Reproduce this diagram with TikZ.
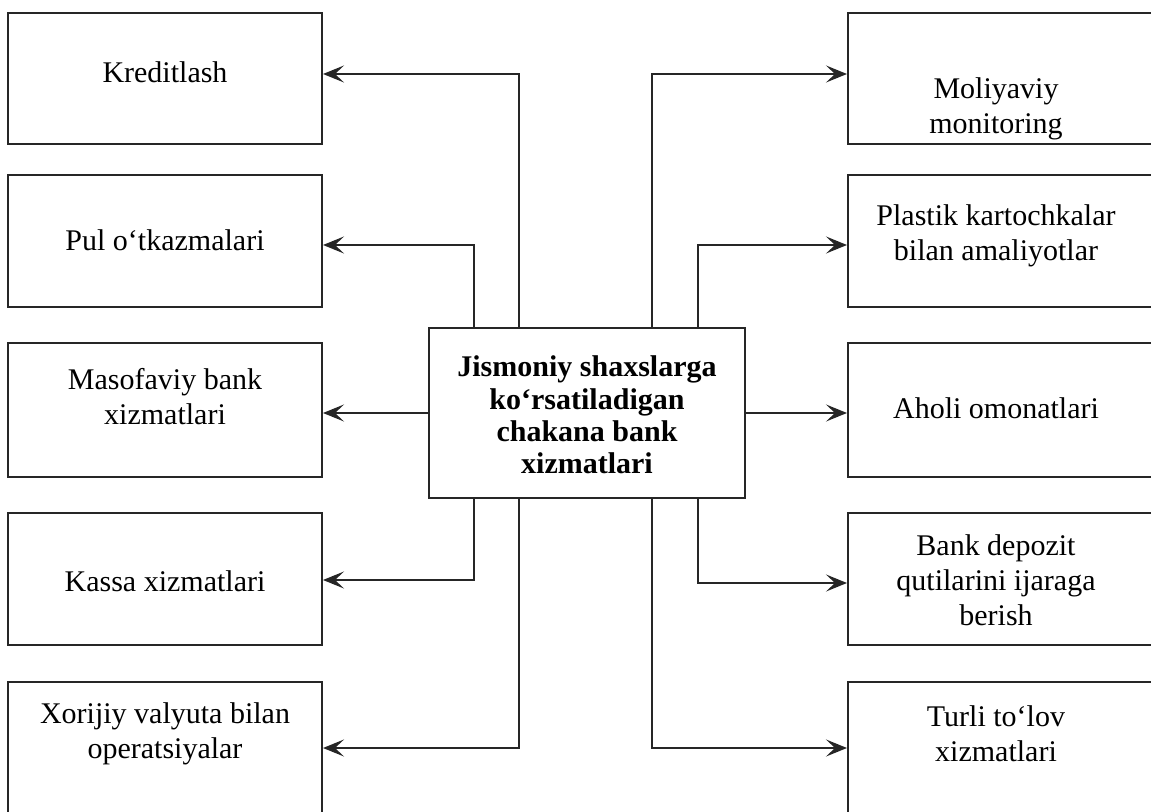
\documentclass[tikz,border=0pt]{standalone}
\usepackage{fontspec}
\setmainfont{Liberation Serif}
\usetikzlibrary{arrows.meta,calc}
\begin{document}
\begin{tikzpicture}[x=0.5pt,y=-0.5pt,
  box/.style={draw=black!85, line width=1pt, rectangle, inner sep=0pt},
  lbox/.style={box, minimum width=157pt},
  rbox/.style={box, minimum width=156pt},
  lbl/.style={align=center, font=\fontsize{15}{17.5}\selectfont, inner sep=0pt},
  clbl/.style={align=center, font=\fontsize{15}{16.2}\selectfont\bfseries, inner sep=0pt},
  arr/.style={draw=black!85, line width=1pt, -{Stealth[length=10.5pt,width=8.5pt,inset=4.5pt]}},
]
\useasboundingbox (0,0) rectangle (1151,812);
\clip (0,0) rectangle (1151,812);

% center box
\node[box, minimum width=158pt, minimum height=85pt] (c) at (587,413) {};
\node[clbl] (ct) at (587,415) {Jismoniy shaxslarga\\ko‘rsatiladigan\\chakana bank\\xizmatlari};

% left boxes
\node[lbox, minimum height=65.5pt] (L1) at (165,78.5) {};
\node[lbox, minimum height=66pt]   (L2) at (165,241) {};
\node[lbox, minimum height=67pt]   (L3) at (165,410) {};
\node[lbox, minimum height=66pt]   (L4) at (165,579) {};
\node[lbox, minimum height=79pt]   (L5) at (165,761) {};

% right boxes
\node[rbox, minimum height=65.5pt] (R1) at (1004,78.5) {};
\node[rbox, minimum height=66pt]   (R2) at (1004,241) {};
\node[rbox, minimum height=67pt]   (R3) at (1004,410) {};
\node[rbox, minimum height=66pt]   (R4) at (1004,579) {};
\node[rbox, minimum height=79pt]   (R5) at (1004,761) {};

% labels
\node[lbl] (tL1) at (165,72)  {Kreditlash};
\node[lbl] (tL2) at (165,240) {Pul o‘tkazmalari};
\node[lbl] (tL3) at (165,397) {Masofaviy bank\\xizmatlari};
\node[lbl] (tL4) at (165,581) {Kassa xizmatlari};
\node[lbl] (tL5) at (165,734) {Xorijiy valyuta bilan\\operatsiyalar};

\node[lbl] (tR1) at (996,109) {Moliyaviy\\monitoring};
\node[lbl] (tR2) at (996,236) {Plastik kartochkalar\\bilan amaliyotlar};
\node[lbl] (tR3) at (996,408) {Aholi omonatlari};
\node[lbl] (tR4) at (996,580) {Bank depozit\\qutilarini ijaraga\\berish};
\node[lbl] (tR5) at (996,734) {Turli to‘lov\\xizmatlari};

% connectors left
\draw[arr] ([xshift=-34pt]c.north) |- ([yshift=2.25pt]L1.east);
\draw[arr] ([xshift=-56.5pt]c.north) |- ([yshift=-2pt]L2.east);
\draw[arr] (c.west) -- (c.west -| L3.east);
\draw[arr] ([xshift=-56.5pt]c.south) |- ([yshift=-0.5pt]L4.east);
\draw[arr] ([xshift=-34pt]c.south) |- ([yshift=6.5pt]L5.east);

% connectors right
\draw[arr] ([xshift=32.5pt]c.north) |- ([yshift=2.25pt]R1.west);
\draw[arr] ([xshift=55.5pt]c.north) |- ([yshift=-2pt]R2.west);
\draw[arr] (c.east) -- (c.east -| R3.west);
\draw[arr] ([xshift=55.5pt]c.south) |- ([yshift=-2pt]R4.west);
\draw[arr] ([xshift=32.5pt]c.south) |- ([yshift=6.5pt]R5.west);
\end{tikzpicture}
\end{document}
